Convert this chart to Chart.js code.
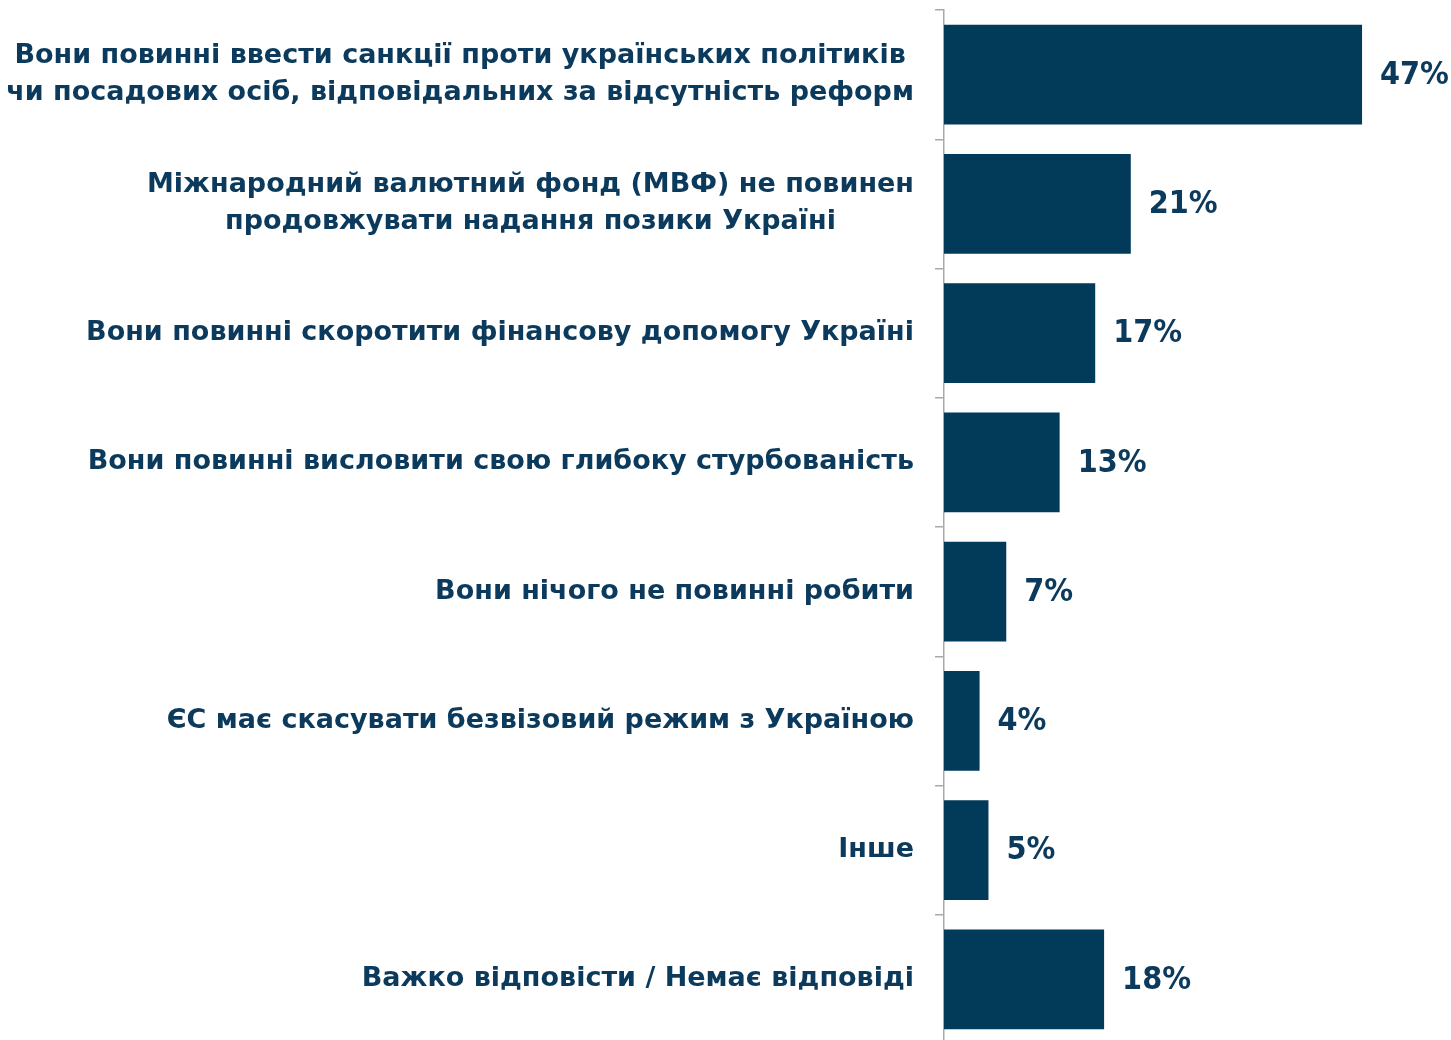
<!DOCTYPE html>
<html>
<head>
<meta charset="utf-8">
<script src="https://cdn.jsdelivr.net/npm/chart.js@4.4.1/dist/chart.umd.min.js"></script>
<style>
  html, body { margin: 0; padding: 0; background: #fff; overflow: hidden; }
  #wrap { width: 1451px; height: 1044px; position: relative; }
</style>
</head>
<body>
<div id="wrap"><canvas id="bar-chart"></canvas></div>
<script>
// ДАНІ
const categories = [
  ["Вони повинні ввести санкції проти українських політиків", "чи посадових осіб, відповідальних за відсутність реформ"],
  ["Міжнародний валютний фонд (МВФ) не повинен", "продовжувати надання позики Україні"],
  ["Вони повинні скоротити фінансову допомогу Україні"],
  ["Вони повинні висловити свою глибоку стурбованість"],
  ["Вони нічого не повинні робити"],
  ["ЄС має скасувати безвізовий режим з Україною"],
  ["Інше"],
  ["Важко відповісти / Немає відповіді"],
];
const values = [47, 21, 17, 13, 7, 4, 5, 18];
const valueLabels = ["47%", "21%", "17%", "13%", "7%", "4%", "5%", "18%"];

const navy = "#023a5a";
const textColor = "#0b3a5c";
const fontFamily = "'DejaVu Sans', Verdana, sans-serif";
const valueFont = "'DejaVu Sans Condensed', 'DejaVu Sans', sans-serif";

// підписи категорій (рядки центровані в межах блоку, блок вирівняний праворуч)
const categoryLabels = {
  id: "categoryLabels",
  afterDraw(chart) {
    const ctx = chart.ctx;
    const y = chart.scales.y;
    const right = y.right - 30;
    ctx.save();
    ctx.font = "bold 27px " + fontFamily;
    ctx.fillStyle = textColor;
    ctx.textAlign = "center";
    ctx.textBaseline = "middle";
    categories.forEach((lines, i) => {
      const cy = y.getPixelForValue(i);
      let maxW = 0;
      lines.forEach((l) => (maxW = Math.max(maxW, ctx.measureText(l).width)));
      const cx = right - maxW / 2;
      const lh = 37;
      const top = cy - ((lines.length - 1) * lh) / 2;
      lines.forEach((l, j) => ctx.fillText(l, cx, top + j * lh));
    });
    ctx.restore();
  },
};

// підписи значень
const valueLabelsPlugin = {
  id: "valueLabels",
  afterDatasetsDraw(chart) {
    const ctx = chart.ctx;
    const meta = chart.getDatasetMeta(0);
    ctx.save();
    ctx.font = "bold 32px " + valueFont;
    ctx.fillStyle = textColor;
    ctx.textAlign = "left";
    ctx.textBaseline = "middle";
    meta.data.forEach((bar, i) => {
      ctx.fillText(valueLabels[i], bar.x + 18, bar.y + 1);
    });
    ctx.restore();
  },
};

new Chart(document.getElementById("bar-chart"), {
  type: "bar",
  data: {
    labels: categories,
    datasets: [
      {
        data: values,
        backgroundColor: navy,
        borderColor: "transparent",
        categoryPercentage: 1,
        barPercentage: 0.77,
      },
    ],
  },
  options: {
    indexAxis: "y",
    responsive: true,
    maintainAspectRatio: false,
    animation: false,
    layout: { padding: { top: 10, right: 0, bottom: 0, left: 0 } },
    plugins: {
      legend: { display: false },
      tooltip: { enabled: false },
    },
    scales: {
      x: {
        min: 0,
        max: 57,
        display: false,
      },
      y: {
        afterFit(scale) {
          scale.width = 944;
        },
        grid: {
          offset: true,
          drawOnChartArea: false,
          drawTicks: true,
          tickLength: 9,
          color: "#a6a9ad",
          lineWidth: 1.5,
        },
        border: {
          display: true,
          color: "#a6a9ad",
          width: 1.5,
        },
        ticks: {
          display: false,
        },
      },
    },
  },
  plugins: [categoryLabels, valueLabelsPlugin],
});
</script>
</body>
</html>
